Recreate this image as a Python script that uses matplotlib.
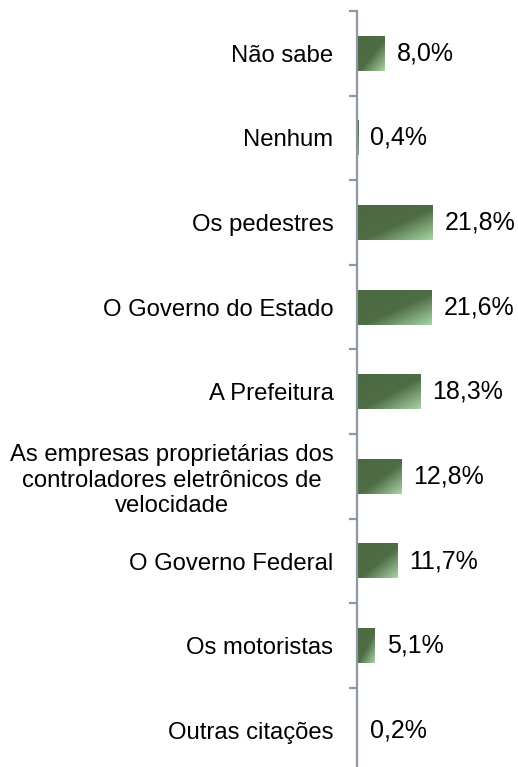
import numpy as np
import matplotlib
matplotlib.use("Agg")
import matplotlib.pyplot as plt
from matplotlib.colors import LinearSegmentedColormap

categories = ["Não sabe", "Nenhum", "Os pedestres", "O Governo do Estado", "A Prefeitura",
              "As empresas proprietárias dos\ncontroladores eletrônicos de\nvelocidade",
              "O Governo Federal", "Os motoristas", "Outras citações"]
values = [8.0, 0.4, 21.8, 21.6, 18.3, 12.8, 11.7, 5.1, 0.2]
value_labels = ["8,0%", "0,4%", "21,8%", "21,6%", "18,3%", "12,8%", "11,7%", "5,1%", "0,2%"]

plt.rcParams['font.family'] = ['Liberation Sans', 'DejaVu Sans']

W, H = 518, 767
fig = plt.figure(figsize=(W / 100, H / 100), dpi=100)
left_px, right_px, top_px, bot_px = 357, 357 + 40 * 3.47, 11, 772.6
ax = fig.add_axes([left_px / W, 1 - bot_px / H, (right_px - left_px) / W, (bot_px - top_px) / H])

cmap = LinearSegmentedColormap.from_list("g", [(0, "#4C6A42"), (0.55, "#4F6D45"), (1.0, "#A6D4A3")])
nx, ny = 60, 30
u = np.linspace(0, 1, nx)[None, :]
v = np.linspace(0, 1, ny)[:, None]
grad = (u + v) / 2.0

bh = 0.41
for i, val in enumerate(values):
    ax.imshow(grad, cmap=cmap, extent=[0, val, i + bh / 2, i - bh / 2], aspect='auto',
              interpolation='bilinear', zorder=2, vmin=0, vmax=1)
    ax.text(val + 12 / 3.47, i, value_labels[i], va='center', ha='left', fontsize=18, color='#000000')

ax.set_xlim(0, 40)
ax.set_ylim(len(categories) - 0.5, -0.5)
ax.set_aspect('auto')

for s in ['top', 'right', 'bottom']:
    ax.spines[s].set_visible(False)
ax.spines['left'].set_color('#8E98A4')
ax.spines['left'].set_linewidth(1.6)
ax.spines['left'].set_zorder(3)
ax.set_xticks([])

ax.set_yticks(range(len(categories)))
ax.set_yticklabels(categories, fontsize=17.2, multialignment='center')
ax.tick_params(axis='y', which='major', length=0, pad=17)
ax.set_yticks(np.arange(-0.5, len(categories), 1.0), minor=True)
ax.tick_params(axis='y', which='minor', length=5.5, width=1.6, color='#8E98A4')

fig.savefig("out.png", dpi=100)
